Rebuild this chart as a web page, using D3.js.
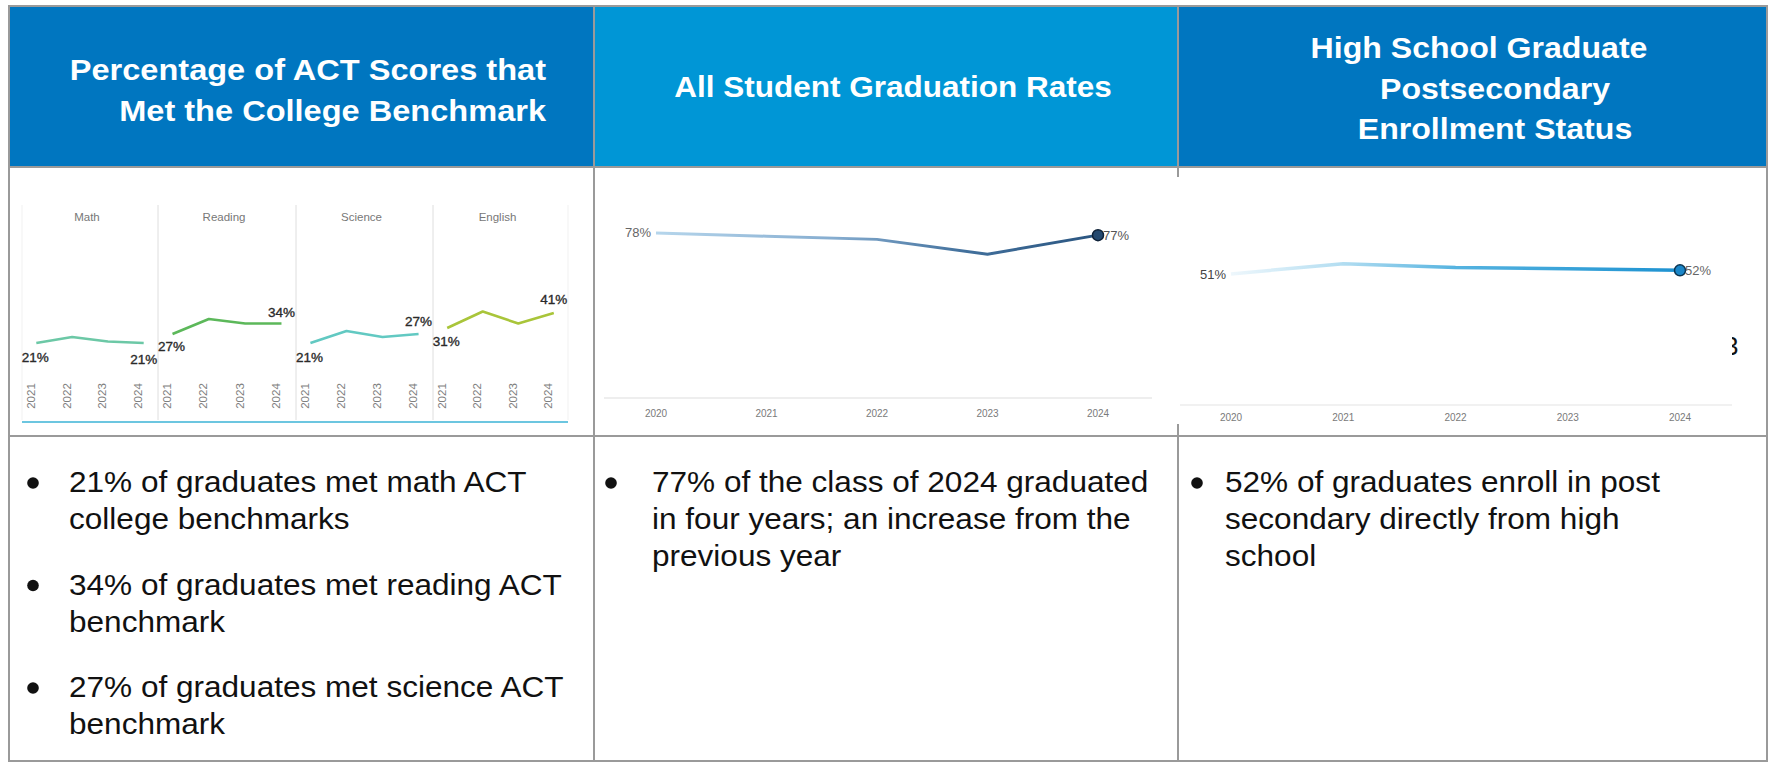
<!DOCTYPE html>
<html>
<head>
<meta charset="utf-8">
<script src="https://cdn.jsdelivr.net/npm/d3@7/dist/d3.min.js"></script>
<style>
  body { margin: 0; background: #fff; }
  svg { display: block; font-family: "Liberation Sans", Arial, sans-serif; }
</style>
</head>
<body>
<div id="board"></div>
<script>
// ---- data ----
var actYears = ["2021", "2022", "2023", "2024"];
var actSubjects = ["Math", "Reading", "Science", "English"];
var actMath = [21, 25, 22, 21];
var actReading = [27, 37, 34, 34];
var actScience = [21, 29, 25, 27];
var actEnglish = [31, 42, 34, 41];

var gradYears = ["2020", "2021", "2022", "2023", "2024"];
var gradRates = [78, 76.5, 75, 68, 77];

var enrollYears = ["2020", "2021", "2022", "2023", "2024"];
var enrollRates = [51, 55, 53.5, 53, 52.4];

var headers = [
  ["Percentage of ACT Scores that", "Met the College Benchmark"],
  ["All Student Graduation Rates"],
  ["High School Graduate", "Postsecondary", "Enrollment Status"]
];
var notes1 = [
  ["21% of graduates met math ACT", "college benchmarks"],
  ["34% of graduates met reading ACT", "benchmark"],
  ["27% of graduates met science ACT", "benchmark"]
];
var notes2 = [["77% of the class of 2024 graduated", "in four years; an increase from the", "previous year"]];
var notes3 = [["52% of graduates enroll in post", "secondary directly from high", "school"]];

var width = 1770, height = 763;
var colX = [9, 594, 1178, 1767];
var rowY = [6, 167, 436, 762];

var svg = d3.select("#board").append("svg")
  .attr("width", width)
  .attr("height", height);

var defs = svg.append("defs");

// header cells
var headFill = ["#0076c0", "#0096d6", "#0076c0"];
svg.selectAll(".head").data(headFill).enter().append("rect")
  .attr("x", function(d, i) { return colX[i]; })
  .attr("y", rowY[0])
  .attr("width", function(d, i) { return colX[i + 1] - colX[i]; })
  .attr("height", rowY[1] - rowY[0])
  .attr("fill", function(d) { return d; });

// header titles (the source is a bit stretched sideways)
var headPos = [
  { anchor: "end", sx: 1.085, x: [546, 546], y: [80, 121] },
  { anchor: "middle", sx: 1.05, x: [893], y: [97] },
  { anchor: "middle", sx: 1.07, x: [1479, 1495, 1495], y: [58, 99, 139] }
];
headers.forEach(function(lines, c) {
  lines.forEach(function(t, j) {
    svg.append("text")
      .attr("transform", "translate(" + headPos[c].x[j] + "," + headPos[c].y[j] + ") scale(" + headPos[c].sx + ",1)")
      .attr("text-anchor", headPos[c].anchor)
      .attr("fill", "#fff")
      .attr("font-weight", "bold")
      .attr("font-size", 30)
      .text(t);
  });
});

// table grid
var grid = svg.append("g").attr("stroke", "#9a9a9a").attr("stroke-width", 2).attr("fill", "none");
grid.append("rect").attr("x", colX[0]).attr("y", rowY[0])
  .attr("width", colX[3] - colX[0]).attr("height", rowY[3] - rowY[0] - 1);
colX.slice(1, 3).forEach(function(x) {
  grid.append("line").attr("x1", x).attr("x2", x).attr("y1", rowY[0]).attr("y2", rowY[3]);
});
rowY.slice(1, 3).forEach(function(y) {
  grid.append("line").attr("x1", colX[0]).attr("x2", colX[3]).attr("y1", y).attr("y2", y);
});

// stray glyph peeking out from behind the enrollment picture
svg.append("text").attr("x", 1724).attr("y", 355).attr("font-size", 26).attr("fill", "#111").text("3");

// ---------- ACT small multiples ----------
var actSeries = [actMath, actReading, actScience, actEnglish];
var actColors = ["#6cc8a6", "#5cb85a", "#62c9c2", "#a9c53a"];
var panelX = [22, 158, 296, 433, 568];
var actY = d3.scaleLinear().domain([0, 100]).range([374.5, 224.5]);
// label side for first / last point
var actLabelDy = [[15, 17], [13, -11], [15, -12], [14, -13]];

var act = svg.append("g");
act.append("rect").attr("x", 14).attr("y", 196).attr("width", 562).attr("height", 232).attr("fill", "#fff");

panelX.forEach(function(x, i) {
  act.append("line").attr("x1", x).attr("x2", x).attr("y1", 205).attr("y2", 420)
    .attr("stroke", i == 0 || i == 4 ? "#f1f1f1" : "#dedede").attr("stroke-width", 1);
});

actSeries.forEach(function(vals, p) {
  var x = d3.scalePoint().domain(actYears).range([panelX[p], panelX[p + 1]]).padding(0.4);
  var g = act.append("g");

  g.append("text")
    .attr("x", (panelX[p] + panelX[p + 1]) / 2 - 3)
    .attr("y", 221)
    .attr("text-anchor", "middle")
    .attr("font-size", 11.5)
    .attr("fill", "#777")
    .text(actSubjects[p]);

  var line = d3.line()
    .x(function(d, i) { return x(actYears[i]); })
    .y(function(d) { return actY(d); });

  g.append("path")
    .attr("d", line(vals))
    .attr("fill", "none")
    .attr("stroke", actColors[p])
    .attr("stroke-width", 2.6)
    .attr("stroke-linejoin", "round");

  [0, vals.length - 1].forEach(function(k, j) {
    g.append("text")
      .attr("x", x(actYears[k]) + (j == 0 ? -1 : 0))
      .attr("y", actY(vals[k]) + actLabelDy[p][j] + 4)
      .attr("text-anchor", "middle")
      .attr("font-size", 13.5)
      .attr("fill", "#2a2a2a")
      .attr("stroke", "#2a2a2a")
      .attr("stroke-width", 0.35)
      .text(vals[k] + "%");
  });

  g.selectAll(".yr").data(actYears).enter().append("text")
    .attr("transform", function(d) { return "translate(" + (x(d) - 1.5) + ",396) rotate(-90)"; })
    .attr("text-anchor", "middle")
    .attr("font-size", 11.5)
    .attr("fill", "#808080")
    .text(function(d) { return d; });
});

act.append("line").attr("x1", 22).attr("x2", 568).attr("y1", 422).attr("y2", 422)
  .attr("stroke", "#6cc6e0").attr("stroke-width", 2);

// ---------- graduation rates ----------
var gradX = d3.scalePoint().domain(gradYears).range([656, 1098]);
var gradY = d3.scaleLinear().domain([0, 100]).range([398, 186.5]);

var grad = svg.append("g");
grad.append("line").attr("x1", 604).attr("x2", 1152).attr("y1", 398).attr("y2", 398)
  .attr("stroke", "#e8e8e8").attr("stroke-width", 1.5);

var gGrad = defs.append("linearGradient").attr("id", "gradLine")
  .attr("gradientUnits", "userSpaceOnUse")
  .attr("x1", gradX("2020")).attr("x2", gradX("2024")).attr("y1", 0).attr("y2", 0);
gGrad.selectAll("stop")
  .data([[0, "#b6d6ec"], [0.4, "#86add0"], [0.7, "#42709c"], [1, "#2a5580"]])
  .enter().append("stop")
  .attr("offset", function(d) { return d[0]; })
  .attr("stop-color", function(d) { return d[1]; });

grad.append("path")
  .attr("d", d3.line().x(function(d, i) { return gradX(gradYears[i]); }).y(function(d) { return gradY(d); })(gradRates))
  .attr("fill", "none")
  .attr("stroke", "url(#gradLine)")
  .attr("stroke-width", 3)
  .attr("stroke-linejoin", "round");

grad.append("circle")
  .attr("cx", gradX("2024")).attr("cy", gradY(gradRates[4])).attr("r", 5.5)
  .attr("fill", "#24496f").attr("stroke", "#0f2238").attr("stroke-width", 1.5);

grad.append("text").attr("x", gradX("2020") - 5).attr("y", gradY(gradRates[0]) + 4)
  .attr("text-anchor", "end").attr("font-size", 13).attr("fill", "#666").text("78%");
grad.append("text").attr("x", gradX("2024") + 5).attr("y", gradY(gradRates[4]) + 5)
  .attr("font-size", 13).attr("fill", "#555").text("77%");

grad.selectAll(".yr").data(gradYears).enter().append("text")
  .attr("x", function(d) { return gradX(d); })
  .attr("y", 417)
  .attr("text-anchor", "middle")
  .attr("font-size", 10)
  .attr("fill", "#7a7a7a")
  .text(function(d) { return d; });

// ---------- postsecondary enrollment ----------
var enrX = d3.scalePoint().domain(enrollYears).range([1231, 1680]);
var enrY = d3.scaleLinear().domain([0, 100]).range([405, 148]);

var enr = svg.append("g");
enr.append("rect").attr("x", 1172).attr("y", 177).attr("width", 560).attr("height", 247).attr("fill", "#fff");
enr.append("line").attr("x1", 1180).attr("x2", 1732).attr("y1", 405).attr("y2", 405)
  .attr("stroke", "#ececec").attr("stroke-width", 1.5);

var gEnr = defs.append("linearGradient").attr("id", "enrLine")
  .attr("gradientUnits", "userSpaceOnUse")
  .attr("x1", enrX("2020")).attr("x2", enrX("2024")).attr("y1", 0).attr("y2", 0);
gEnr.selectAll("stop")
  .data([[0, "#eef7fc"], [0.25, "#b2ddf1"], [0.5, "#55b3e0"], [1, "#1d92d1"]])
  .enter().append("stop")
  .attr("offset", function(d) { return d[0]; })
  .attr("stop-color", function(d) { return d[1]; });

enr.append("path")
  .attr("d", d3.line().x(function(d, i) { return enrX(enrollYears[i]); }).y(function(d) { return enrY(d); })(enrollRates))
  .attr("fill", "none")
  .attr("stroke", "url(#enrLine)")
  .attr("stroke-width", 3.5)
  .attr("stroke-linejoin", "round");

enr.append("circle")
  .attr("cx", enrX("2024")).attr("cy", enrY(enrollRates[4])).attr("r", 5.5)
  .attr("fill", "#1a86c8").attr("stroke", "#0b3552").attr("stroke-width", 1.5);

enr.append("text").attr("x", enrX("2020") - 5).attr("y", enrY(enrollRates[0]) + 5)
  .attr("text-anchor", "end").attr("font-size", 13).attr("fill", "#444").text("51%");
enr.append("text").attr("x", enrX("2024") + 5).attr("y", enrY(enrollRates[4]) + 5)
  .attr("font-size", 13).attr("fill", "#666").text("52%");

enr.selectAll(".yr").data(enrollYears).enter().append("text")
  .attr("x", function(d) { return enrX(d); })
  .attr("y", 421)
  .attr("text-anchor", "middle")
  .attr("font-size", 10)
  .attr("fill", "#7a7a7a")
  .text(function(d) { return d; });

// ---------- bullet notes ----------
function drawNotes(notes, bx, tx, firstBase, gap) {
  var base = firstBase;
  notes.forEach(function(lines) {
    svg.append("circle").attr("cx", bx).attr("cy", base - 9).attr("r", 5.8).attr("fill", "#111");
    lines.forEach(function(t, j) {
      svg.append("text")
        .attr("transform", "translate(" + tx + "," + (base + j * 37) + ") scale(1.07,1)")
        .attr("font-size", 29.5)
        .attr("fill", "#111")
        .text(t);
    });
    base += lines.length * 37 + gap;
  });
}
drawNotes(notes1, 33, 69, 492, 28.5);
drawNotes(notes2, 611, 652, 492, 28.5);
drawNotes(notes3, 1197, 1225, 492, 28.5);
</script>
</body>
</html>
